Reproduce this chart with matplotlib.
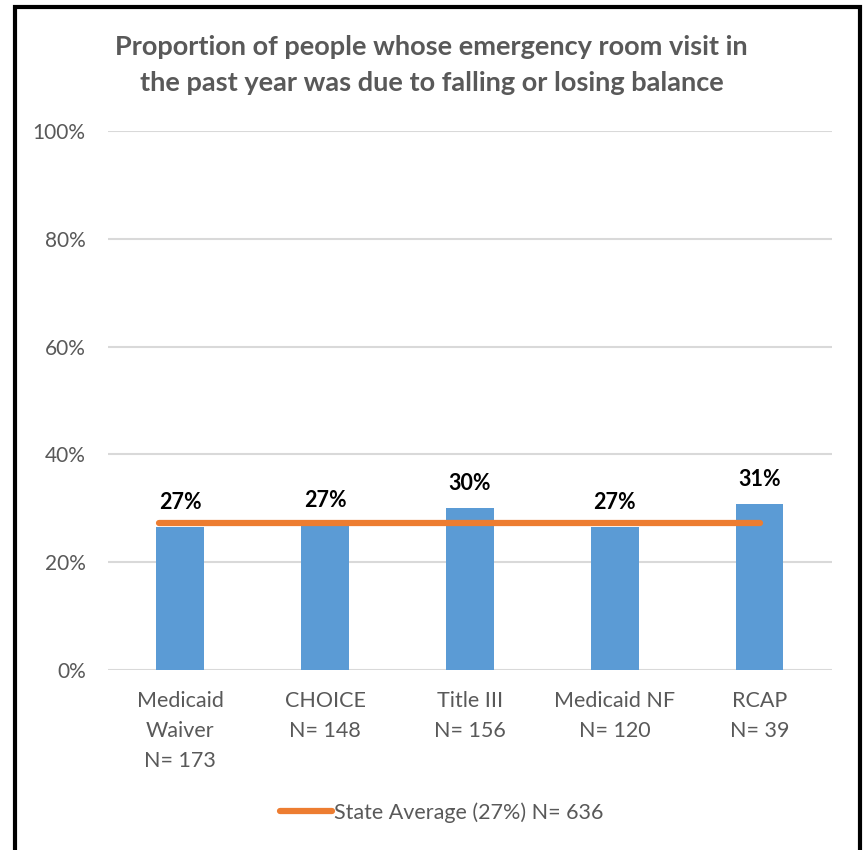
import matplotlib
matplotlib.use("Agg")
import matplotlib.pyplot as plt
from matplotlib.patches import Rectangle
from matplotlib.lines import Line2D

categories = ["Medicaid\nWaiver\nN= 173", "CHOICE\nN= 148", "Title III\nN= 156",
              "Medicaid NF\nN= 120", "RCAP\nN= 39"]
values = [26.6, 27.0, 30.1, 26.6, 30.8]
state_average = 27.3
legend_label = "State Average (27%) N= 636"
title = "Proportion of people whose emergency room visit in\nthe past year was due to falling or losing balance"
yticks = [0, 20, 40, 60, 80, 100]

plt.rcParams['font.family'] = ['Lato', 'DejaVu Sans']

fig = plt.figure(figsize=(8.63, 8.5), dpi=100)
ax = fig.add_axes([0.125, 0.2118, 0.839, 0.6341])

x = list(range(len(categories)))
ax.bar(x, values, width=0.33, color="#5b9bd5", zorder=2)
for xi, v in zip(x, values):
    ax.annotate(f"{round(v)}%", (xi, v), xytext=(0, 10), textcoords="offset points",
                ha="center", va="bottom", fontsize=15.5, fontweight="bold",
                color="black", zorder=4)

ax.plot([x[0] - 0.15, x[-1]], [state_average, state_average], color="#ed7d31",
        linewidth=4.5, solid_capstyle="round", zorder=3)

ax.set_xlim(-0.5, 4.5)
ax.set_ylim(0, 100)
ax.set_yticks(yticks)
ax.set_yticklabels([f"{t}%" for t in yticks], fontsize=15, color="#595959")
ax.yaxis.grid(True, color="#d9d9d9", linewidth=1.5, zorder=0)
ax.set_axisbelow(True)
ax.tick_params(axis="y", length=0, pad=16)
ax.tick_params(axis="x", length=0, pad=15)
ax.set_xticks(x)
ax.set_xticklabels(categories, fontsize=15.5, color="#595959", linespacing=1.62)
for s in ax.spines.values():
    s.set_visible(False)

fig.text(0.5, 0.9235, title, ha="center", va="center", fontsize=19.5,
         fontweight="bold", color="#595959", linespacing=1.6)

handle = Line2D([], [], color="#ed7d31", linewidth=4.5, solid_capstyle="round")
fig.legend([handle], [legend_label], loc="center", bbox_to_anchor=(0.512, 0.044),
           frameon=False, fontsize=15.5, handlelength=2.4, handletextpad=0.1,
           labelcolor="#595959")

fig.patches.append(Rectangle((14.5 / 863, -0.05), (860 - 14.5) / 863, 1.05 - 7 / 850,
                             transform=fig.transFigure, fill=False,
                             edgecolor="black", linewidth=3))

fig.savefig("out.png", dpi=100, facecolor="white")
